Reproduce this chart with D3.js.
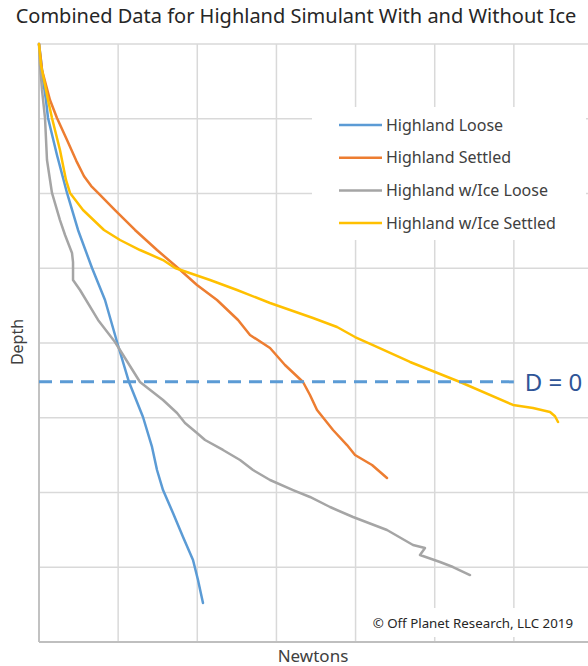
<!DOCTYPE html>
<html>
<head>
<meta charset="utf-8">
<script src="https://cdn.jsdelivr.net/npm/d3@7"></script>
<style>
body { margin: 0; background: #fff; }
svg { font-family: "Noto Sans", "Open Sans", sans-serif; }
</style>
</head>
<body>
<svg id="vis_canvas" width="588" height="666"></svg>
<script>
var title = "Combined Data for Highland Simulant With and Without Ice";
var x_label = "Newtons";
var y_label = "Depth";
var credit = "\u00a9 Off Planet Research, LLC 2019";

var series_names = ["Highland Loose", "Highland Settled", "Highland w/Ice Loose", "Highland w/Ice Settled"];
var series_colors = ["#5b9bd5", "#ed7d31", "#a5a5a5", "#ffc000"];

// [newtons, depth]
var highland_loose = [
[0,0],[2.5,2.14],[5.1,4.82],[8.8,7.49],[11.4,9.9],[22.7,14.85],[35.4,19.93],[49.3,24.88],
[67.0,29.97],[83.4,34.25],[98.6,39.87],[113.7,45.22],[131.4,49.9],[142.8,53.91],[149.1,56.99],
[156.7,59.67],[169.3,62.74],[182.0,65.95],[194.6,69.03],[200.9,71.71],[207.2,74.78]
];
var highland_settled = [
[0,0],[3.8,3.48],[13.9,7.49],[22.7,9.9],[35.4,12.84],[47.0,15.6],[56.9,17.7],[66.0,19.0],[74.6,19.93],
[96.0,22.21],[121.3,24.88],[149.1,27.56],[175.6,29.97],[199.6,32.24],[224.9,34.25],[251.5,36.92],
[266.6,38.93],[291.9,40.67],[310.8,42.94],[333.6,45.22],[342.4,46.96],[351.3,48.96],[371.5,51.64],
[389.2,53.65],[399.3,54.98],[420.8,56.32],[439.7,58.06]
];
var ice_loose = [
[0,0],[1.3,2.81],[3.8,6.15],[7.6,9.9],[10.1,15.52],[16.4,19.93],[26.5,23.55],[32.9,25.55],
[41.7,27.96],[43.0,29.17],[43.0,31.58],[51.8,32.91],[74.6,36.92],[96.0,39.87],[127.6,45.22],
[156.7,47.63],[174.4,49.37],[184.5,50.71],[199.6,52.04],[209.8,52.98],[232.5,54.31],[254.0,55.65],
[270.4,56.99],[291.9,58.33],[321.0,59.67],[342.4,60.6],[367.7,61.94],[396.8,63.28],[439.7,65.02],
[472.6,67.02],[487.7,67.43],[481.4,68.36],[506.7,69.3],[523.1,69.97],[544.6,71.04]
];
var ice_settled = [
[0,0],[2.5,2.81],[7.6,5.48],[11.4,7.49],[16.4,9.9],[26.5,14.18],[34.1,18.19],[39.2,19.93],
[55.6,22.21],[82.1,24.88],[102.4,26.22],[127.6,27.56],[156.7,28.9],[171.9,29.97],[216.1,31.57],
[250.2,32.91],[291.9,34.65],[346.2,36.66],[376.6,37.86],[399.3,39.2],[422.0,40.27],[468.8,42.54],
[532.0,45.22],[598.9,48.29],[624.2,48.7],[645.7,49.23],[652.0,49.8],[655.8,50.57]
];
var all_series = [highland_loose, highland_settled, ice_loose, ice_settled];

var d_zero_depth = 45.2;
var d_zero_max_newtons = 600;

var svg = d3.select("#vis_canvas");

var plot_left = 39, plot_top = 44, plot_w = 554, plot_h = 598;

var x = d3.scaleLinear().domain([0, 700]).range([plot_left, plot_left + plot_w]);
var y = d3.scaleLinear().domain([0, 80]).range([plot_top, plot_top + plot_h]);

// gridlines
svg.append("g").selectAll("line").data(x.ticks(7)).enter().append("line")
    .attr("x1", function(d) { return x(d); })
    .attr("x2", function(d) { return x(d); })
    .attr("y1", y(0)).attr("y2", y(80))
    .attr("stroke", "#d9d9d9").attr("stroke-width", 1.5);

svg.append("g").selectAll("line").data(y.ticks(8)).enter().append("line")
    .attr("x1", x(0)).attr("x2", x(700))
    .attr("y1", function(d) { return y(d); })
    .attr("y2", function(d) { return y(d); })
    .attr("stroke", "#d9d9d9").attr("stroke-width", 1.5);

// axis lines
svg.append("line").attr("x1", x(0)).attr("x2", x(0)).attr("y1", y(0)).attr("y2", y(80))
    .attr("stroke", "#bfbfbf").attr("stroke-width", 1.8);
svg.append("line").attr("x1", x(0)).attr("x2", x(700)).attr("y1", y(80)).attr("y2", y(80))
    .attr("stroke", "#bfbfbf").attr("stroke-width", 1.8);

var line = d3.line()
    .x(function(d) { return x(d[0]); })
    .y(function(d) { return y(d[1]); });

svg.append("g").selectAll("path").data(all_series).enter().append("path")
    .attr("d", line)
    .attr("fill", "none")
    .attr("stroke", function(d, i) { return series_colors[i]; })
    .attr("stroke-width", 2.5)
    .attr("stroke-linejoin", "round")
    .attr("stroke-linecap", "round");

// D = 0 marker
svg.append("line")
    .attr("x1", x(0)).attr("x2", x(d_zero_max_newtons))
    .attr("y1", y(d_zero_depth)).attr("y2", y(d_zero_depth))
    .attr("stroke", "#5b9bd5").attr("stroke-width", 3)
    .attr("stroke-dasharray", "13,8");
svg.append("text")
    .attr("x", x(d_zero_max_newtons) + 11).attr("y", y(d_zero_depth) + 9)
    .attr("font-size", 24).attr("fill", "#2f5597")
    .text("D = 0");

// legend
svg.append("rect").attr("x", 312).attr("y", 107).attr("width", 274).attr("height", 133).attr("fill", "#fff");
var legend = svg.append("g").selectAll("g").data(series_names).enter().append("g")
    .attr("transform", function(d, i) { return "translate(339," + (125 + i * 32.7) + ")"; });
legend.append("line").attr("x1", 0).attr("x2", 43)
    .attr("stroke", function(d, i) { return series_colors[i]; })
    .attr("stroke-width", 2.5);
legend.append("text").attr("x", 47).attr("y", 5.5)
    .attr("font-size", 16).attr("fill", "#404040")
    .text(function(d) { return d; });

// credit
svg.append("rect").attr("x", 365).attr("y", 608).attr("width", 215).attr("height", 29).attr("fill", "#fff");
svg.append("text").attr("x", 573).attr("y", 628).attr("text-anchor", "end")
    .attr("font-size", 13.3).attr("fill", "#262626").text(credit);

// titles
svg.append("text").attr("x", 296).attr("y", 23).attr("text-anchor", "middle")
    .attr("font-size", 20).attr("fill", "#262626").text(title);
svg.append("text").attr("x", 313).attr("y", 662).attr("text-anchor", "middle")
    .attr("font-size", 17).attr("fill", "#404040").text(x_label);
svg.append("text").attr("transform", "translate(23,342) rotate(-90)").attr("text-anchor", "middle")
    .attr("font-size", 16).attr("fill", "#404040").text(y_label);
</script>
</body>
</html>
